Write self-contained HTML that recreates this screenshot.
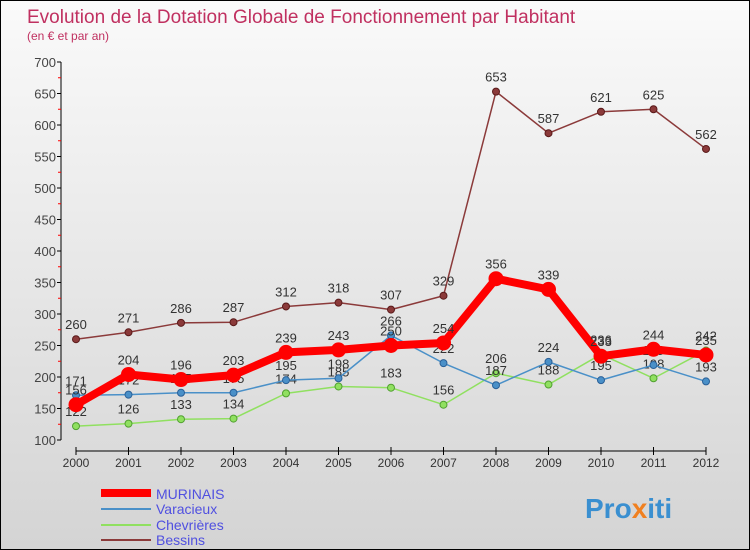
<!DOCTYPE html>
<html><head><meta charset="utf-8"><style>
body{margin:0}
#c{position:relative;width:748px;height:548px;border:1px solid #000;background:linear-gradient(#fafafa,#d4d4d4);font-family:"Liberation Sans",sans-serif;overflow:hidden}
</style></head><body>
<div id="c">
<svg id="s" width="748" height="548">
<text x="26" y="22" font-size="19" fill="#c03060">Evolution de la Dotation Globale de Fonctionnement par Habitant</text>
<text x="26" y="39" font-size="12" fill="#c03060">(en € et par an)</text>
<g id="g"></g>
<g>
<line x1="100" y1="492" x2="150" y2="492" stroke="#f00" stroke-width="8"/>
<text x="155" y="498" font-size="14" fill="#5050e0">MURINAIS</text>
<line x1="100" y1="508" x2="150" y2="508" stroke="#4a90c8" stroke-width="2"/>
<text x="155" y="513" font-size="14" fill="#5050e0">Varacieux</text>
<line x1="100" y1="524" x2="150" y2="524" stroke="#90e060" stroke-width="2"/>
<text x="155" y="529" font-size="14" fill="#5050e0">Chevrières</text>
<line x1="100" y1="539" x2="150" y2="539" stroke="#8b3a3a" stroke-width="2"/>
<text x="155" y="544" font-size="14" fill="#5050e0">Bessins</text>
</g>
<text x="584" y="517" font-size="28" font-weight="bold" fill="#3a8fd0">Pro<tspan fill="#f08020">x</tspan>iti</text>
</svg>
</div>
<script>
const years=[2000,2001,2002,2003,2004,2005,2006,2007,2008,2009,2010,2011,2012];
const murinais=[156,204,196,203,239,243,250,254,356,339,233,244,235];
const varacieux=[171,172,175,175,195,198,266,222,187,224,195,219,193];
const chevrieres=[122,126,133,134,174,185,183,156,206,188,236,198,242];
const bessins=[260,271,286,287,312,318,307,329,653,587,621,625,562];
const yTicks=[100,150,200,250,300,350,400,450,500,550,600,650,700];
const NS="http://www.w3.org/2000/svg";
const g=document.getElementById('g');
const x=i=>75+i*(630/12);
const y=v=>439-(v-100)*(378/600);
function el(t,a){const e=document.createElementNS(NS,t);for(const k in a)e.setAttribute(k,a[k]);g.appendChild(e);return e;}
let ax=el('line',{x1:60,y1:61,x2:60,y2:439,stroke:'#000'});

let bx=el('line',{x1:75,y1:450,x2:705,y2:450,stroke:'#000'});

yTicks.forEach((v,i)=>{
 el('line',{x1:56,y1:y(v),x2:60,y2:y(v),stroke:'#000'});
 if(i<yTicks.length-1)el('line',{x1:57,y1:y(v+25),x2:60,y2:y(v+25),stroke:'#f00'});
 const t=el('text',{x:55,y:y(v)+5,'font-size':13,fill:'#444','text-anchor':'end'});
 t.textContent=v;
 
});
years.forEach((yr,i)=>{
 el('line',{x1:x(i),y1:446,x2:x(i),y2:454,stroke:'#000'});
 const t=el('text',{x:x(i),y:466,'font-size':12,fill:'#333','text-anchor':'middle'});
 t.textContent=yr;
 
});
function series(d,col,w,r,name,dark){
 const p=el('polyline',{points:d.map((v,i)=>x(i)+','+y(v)).join(' '),fill:'none',stroke:col,'stroke-width':w,'stroke-linejoin':'round'});
 
 d.forEach((v,i)=>{
  const c=el('circle',{cx:x(i),cy:y(v),r:r,fill:col,stroke:dark,'stroke-width':1});
  
  const t=el('text',{x:x(i),y:y(v)-10,'font-size':13,fill:'#333','text-anchor':'middle'});
  t.textContent=v;
  
 });
}
series(bessins,'#8b3a3a',1.5,3.5,'bessins','#5a1a1a');
series(chevrieres,'#90e060',1.5,3.5,'chevrieres','#50a030');
series(varacieux,'#4a90c8',1.5,3.5,'varacieux','#2a6098');
series(murinais,'#f00',8,7,'murinais','#f00');
</script>
</body></html>
